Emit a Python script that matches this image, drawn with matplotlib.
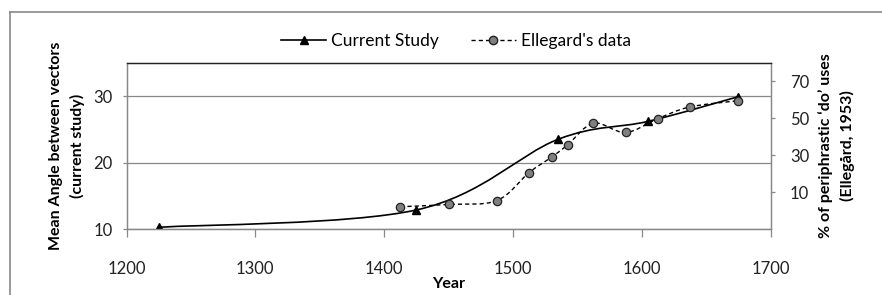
import numpy as np
import matplotlib
matplotlib.use("Agg")
import matplotlib.pyplot as plt
from matplotlib.path import Path
from matplotlib.patches import PathPatch
from matplotlib.lines import Line2D

plt.rcParams['font.family'] = ['Lato', 'DejaVu Sans']

# data
study_years = [1225, 1425, 1535, 1605, 1675]
study_angle = [10.3, 12.9, 23.5, 26.2, 29.9]

ellegard_years = [1412.5, 1450, 1487.5, 1512.5, 1530, 1542.5, 1562.5, 1587.5, 1612.5, 1637.5, 1675]
ellegard_pct = [2.2, 3.4, 5.5, 20.6, 29.0, 35.6, 47.3, 42.3, 49.8, 56.1, 59.5]

x_ticks = [1200, 1300, 1400, 1500, 1600, 1700]
left_ticks = [10, 20, 30]
right_ticks = [10, 30, 50, 70]


def smooth_path(xs, ys):
    # Excel-style smoothed line: cubic bezier with catmull-rom control points
    pts = np.column_stack([xs, ys]).astype(float)
    verts = [pts[0]]
    codes = [Path.MOVETO]
    n = len(pts)
    for i in range(n - 1):
        p0 = pts[max(i - 1, 0)]
        p1 = pts[i]
        p2 = pts[i + 1]
        p3 = pts[min(i + 2, n - 1)]
        c1 = p1 + (p2 - p0) / 6.0
        c2 = p2 - (p3 - p1) / 6.0
        verts += [c1, c2, p2]
        codes += [Path.CURVE4] * 3
    return Path(verts, codes)


W, H = 882, 295
fig = plt.figure(figsize=(W / 100, H / 100), dpi=100)
ax = fig.add_axes([126.5 / W, 1 - 229.3 / H, 644 / W, 166.6 / H])
ax2 = ax.twinx()

grid_c = '#888888'
ax.set_xlim(1200, 1700)
ax.set_ylim(10, 35)
ax2.set_ylim(-10, 80)
ax.set_xticks(x_ticks)
ax.set_yticks(left_ticks)
ax2.set_yticks(right_ticks)
ax.yaxis.grid(True, color=grid_c, linewidth=0.9)
ax.set_axisbelow(True)

for a in (ax, ax2):
    for s in a.spines.values():
        s.set_color(grid_c)
        s.set_linewidth(0.9)
    a.spines['top'].set_color('#222222')
    a.tick_params(colors=grid_c, labelcolor='#222222', labelsize=12, length=3, width=0.9)
ax.tick_params(axis='x', length=6, pad=17)
ax.tick_params(axis='y', pad=7)
ax2.tick_params(axis='y', pad=11)

# current study: smoothed solid line + triangles
ax.add_patch(PathPatch(smooth_path(study_years, study_angle), facecolor='none',
                       edgecolor='black', linewidth=1.2, zorder=3))
ax.plot(study_years, study_angle, linestyle='none', marker='^', color='black',
        markersize=5.5, zorder=4)

# Ellegard's data: smoothed dashed line + grey circles
ax2.add_patch(PathPatch(smooth_path(ellegard_years, ellegard_pct), facecolor='none',
                        edgecolor='black', linewidth=1.0, linestyle=(0, (3, 2.2)), zorder=3))
ax2.plot(ellegard_years, ellegard_pct, linestyle='none', marker='o', markerfacecolor='#7f7f7f',
         markeredgecolor='#222222', markeredgewidth=0.9, markersize=6, zorder=4)

ax.set_xlabel('Year', fontweight='bold', fontsize=11.5, labelpad=0)
ax.set_ylabel('Mean Angle between vectors\n(current study)', fontweight='bold', fontsize=11.5,
              labelpad=6, linespacing=1.6)
ax2.set_ylabel("% of periphrastic \u2018do\u2019 uses\n(Elleg\u00e5rd, 1953)", fontweight='bold',
               fontsize=11.5, labelpad=6, linespacing=1.6)

handles = [
    Line2D([], [], color='black', linewidth=1.2, marker='^', markersize=5.5),
    Line2D([], [], color='black', linewidth=1.0, linestyle=(0, (3, 2.2)), marker='o',
           markerfacecolor='#7f7f7f', markeredgecolor='#222222', markersize=6),
]
fig.legend(handles, ['Current Study', "Ellegard's data"], loc='center',
           bbox_to_anchor=(456 / W, 1 - 41 / H), ncol=2, frameon=False, fontsize=12.5,
           handlelength=2.6, columnspacing=1.8, handletextpad=0.3)

# outer chart border
fig.add_artist(Line2D([10 / W, 10 / W], [0, 1 - 12 / H], color='#888888', linewidth=1.2,
                      transform=fig.transFigure))
fig.add_artist(Line2D([10 / W, 1], [1 - 12 / H, 1 - 12 / H], color='#888888', linewidth=1.2,
                      transform=fig.transFigure))

fig.savefig('out.png', dpi=100)
